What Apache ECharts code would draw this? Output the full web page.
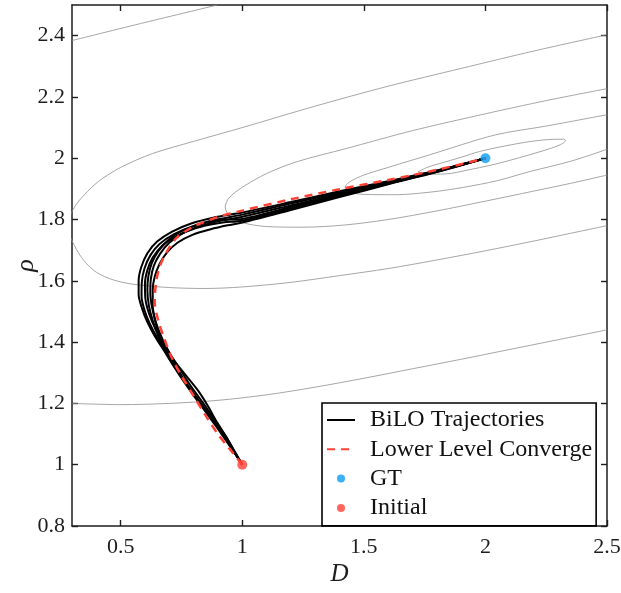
<!DOCTYPE html>
<html>
<head>
<meta charset="utf-8">
<script src="https://cdn.jsdelivr.net/npm/echarts@6/dist/echarts.min.js"></script>
<style>html,body{margin:0;padding:0;background:#fff}#c{width:621px;height:593px}</style>
</head>
<body>
<div id="c"></div>
<script>
// ---- data ----
const xTicks = [0.5, 1, 1.5, 2, 2.5];
const yTicks = [0.8, 1, 1.2, 1.4, 1.6, 1.8, 2, 2.2, 2.4];

const contourA = [[0.3,2.384],[0.6,2.443],[0.898,2.5]];
const contourB = [[2.5,2.403],[2.2,2.35],[1.9,2.293],[1.6,2.235],[1.3,2.17],[1.0,2.1],[0.8,2.055],[0.63,2.015],[0.5,1.97],[0.41,1.925],[0.35,1.88],[0.31,1.84],[0.28,1.78],[0.31,1.715],[0.35,1.665],[0.4,1.628],[0.47,1.603],[0.55,1.589],[0.7,1.578],[0.85,1.575],[1.0,1.58],[1.2,1.595],[1.4,1.617],[1.6,1.64],[1.8,1.668],[2.0,1.698],[2.2,1.73],[2.35,1.755],[2.5,1.78]];
const contourC = [[2.5,2.227],[2.25,2.188],[2.0,2.145],[1.7,2.09],[1.42,2.03],[1.23,1.99],[1.1,1.95],[1.0,1.905],[0.945,1.87],[0.93,1.84],[0.95,1.81],[1.0,1.79],[1.1,1.777],[1.25,1.775],[1.42,1.782],[1.6,1.8],[1.8,1.828],[2.0,1.86],[2.2,1.893],[2.35,1.918],[2.5,1.945]];
const contourD = [[2.5,2.142],[2.25,2.105],[2.04,2.076],[1.77,2.011],[1.6,1.97],[1.5,1.945],[1.44,1.922],[1.423,1.905],[1.44,1.89],[1.5,1.882],[1.63,1.881],[1.78,1.89],[1.91,1.905],[2.05,1.927],[2.18,1.956],[2.35,1.99],[2.5,2.029]];
const contourE = [[1.724,1.956],[1.76,1.97],[1.813,1.983],[1.9,2.003],[1.976,2.022],[2.08,2.04],[2.18,2.054],[2.26,2.061],[2.32,2.062],[2.33,2.058],[2.31,2.045],[2.26,2.03],[2.18,2.011],[2.1,1.993],[2.02,1.977],[1.93,1.962],[1.84,1.949],[1.76,1.948],[1.724,1.956]];
const contourF = [[0.3,1.2],[0.5,1.196],[0.7,1.2],[0.9,1.21],[1.1,1.228],[1.3,1.253],[1.5,1.282],[1.7,1.313],[1.9,1.344],[2.1,1.376],[2.3,1.408],[2.5,1.44]];

const traj1 = [[1.0,1.0],[0.96,1.05],[0.92,1.10],[0.87,1.155],[0.82,1.21],[0.77,1.265],[0.72,1.32],[0.68,1.37],[0.64,1.42],[0.61,1.465],[0.588,1.51],[0.574,1.555],[0.574,1.60],[0.585,1.645],[0.61,1.69],[0.65,1.728],[0.71,1.76],[0.79,1.787],[0.88,1.806],[1.0,1.823],[1.2,1.857],[1.4,1.892],[1.6,1.925],[1.8,1.96],[2.0,2.0]];
const traj2 = [[1.0,1.0],[0.965,1.045],[0.925,1.095],[0.875,1.15],[0.825,1.205],[0.775,1.26],[0.73,1.315],[0.69,1.365],[0.65,1.415],[0.62,1.46],[0.598,1.505],[0.586,1.55],[0.587,1.595],[0.598,1.64],[0.622,1.683],[0.66,1.72],[0.72,1.752],[0.80,1.779],[0.89,1.799],[1.0,1.816],[1.2,1.852],[1.4,1.888],[1.6,1.923],[1.8,1.959],[2.0,2.0]];
const traj3 = [[1.0,1.0],[0.97,1.04],[0.935,1.09],[0.895,1.14],[0.86,1.19],[0.82,1.24],[0.77,1.29],[0.72,1.34],[0.68,1.39],[0.645,1.44],[0.618,1.49],[0.602,1.54],[0.60,1.59],[0.61,1.635],[0.632,1.676],[0.67,1.714],[0.73,1.746],[0.81,1.774],[0.90,1.794],[1.0,1.809],[1.2,1.846],[1.4,1.884],[1.6,1.921],[1.8,1.958],[2.0,2.0]];
const traj4 = [[1.0,1.0],[0.96,1.048],[0.915,1.10],[0.865,1.155],[0.815,1.21],[0.765,1.265],[0.72,1.32],[0.685,1.37],[0.655,1.42],[0.632,1.47],[0.616,1.52],[0.61,1.57],[0.614,1.615],[0.628,1.658],[0.655,1.697],[0.695,1.732],[0.75,1.762],[0.83,1.785],[0.92,1.799],[1.0,1.802],[1.2,1.841],[1.4,1.88],[1.6,1.919],[1.8,1.957],[2.0,2.0]];
const traj5 = [[1.0,1.0],[0.97,1.042],[0.93,1.095],[0.885,1.148],[0.84,1.20],[0.79,1.255],[0.745,1.31],[0.705,1.36],[0.672,1.41],[0.647,1.46],[0.63,1.51],[0.622,1.56],[0.624,1.605],[0.636,1.648],[0.662,1.688],[0.70,1.724],[0.755,1.755],[0.83,1.776],[0.92,1.79],[1.0,1.796],[1.2,1.836],[1.4,1.876],[1.6,1.917],[1.8,1.956],[2.0,2.0]];
const traj6 = [[1.0,1.0],[0.965,1.045],[0.92,1.10],[0.87,1.155],[0.82,1.21],[0.77,1.265],[0.728,1.318],[0.69,1.37],[0.66,1.42],[0.642,1.47],[0.632,1.52],[0.632,1.57],[0.64,1.613],[0.66,1.655],[0.69,1.692],[0.735,1.725],[0.795,1.75],[0.87,1.768],[0.94,1.781],[1.0,1.79],[1.2,1.831],[1.4,1.873],[1.6,1.915],[1.8,1.955],[2.0,2.0]];

const lowerLevelPath = [[1,1],[0.95,1.05],[0.9,1.10],[0.85,1.16],[0.80,1.225],[0.75,1.29],[0.71,1.35],[0.68,1.41],[0.655,1.47],[0.64,1.53],[0.645,1.59],[0.66,1.645],[0.69,1.695],[0.73,1.74],[0.80,1.777],[0.9,1.808],[1.0,1.829],[1.2,1.866],[1.4,1.899],[1.6,1.929],[1.8,1.962],[2.0,2.0]];

const gtPoint = [[2, 2]];
const initialPoint = [[1, 1]];

// ---- chart ----
const FONT = "'Liberation Serif','Times New Roman',serif";
const AXC = '#1e1e1e';
const contours = [contourA, contourB, contourC, contourD, contourE, contourF];
const trajs = [traj1, traj2, traj3, traj4, traj5, traj6];

const series = [];
contours.forEach(c => series.push({
  type: 'line', data: c, showSymbol: false, smooth: 0.3, silent: true, z: 1,
  lineStyle: { color: '#8f8f8f', width: 0.8 }, clip: true
}));
trajs.forEach(t => series.push({
  name: 'BiLO Trajectories', type: 'line', data: t, showSymbol: false, symbol: 'none',
  smooth: 0.3, z: 2, lineStyle: { color: '#000', width: 2 }, itemStyle: { color: '#000' }
}));
series.push({
  name: 'Lower Level Converge', type: 'line', data: lowerLevelPath, showSymbol: false, symbol: 'none',
  smooth: 0.3, z: 3, lineStyle: { color: '#ff4136', width: 2.5, type: [8, 6] }, itemStyle: { color: '#ff4136' }
});
series.push({
  name: 'GT', type: 'scatter', data: gtPoint, symbol: 'circle', symbolSize: 10, z: 4,
  itemStyle: { color: '#0b9ef5' }
});
series.push({
  name: 'Initial', type: 'scatter', data: initialPoint, symbol: 'circle', symbolSize: 10, z: 4,
  itemStyle: { color: '#ff4136' }
});

const tickCommon = { inside: true, length: 6, lineStyle: { color: AXC, width: 1.4 } };
const lineCommon = { show: true, onZero: false, lineStyle: { color: AXC, width: 1.5 } };

const option = {
  animation: false,
  backgroundColor: '#fff',
  grid: { left: 72, right: 14, top: 5, bottom: 67, containLabel: false, outerBoundsMode: 'none' },
  xAxis: [
    { type: 'value', min: 0.3, max: 2.5, position: 'bottom',
      axisLine: lineCommon,
      axisTick: Object.assign({ customValues: xTicks }, tickCommon),
      axisLabel: { customValues: xTicks, fontFamily: FONT, fontSize: 22, color: AXC, margin: 10 },
      splitLine: { show: false },
      name: 'D', nameLocation: 'middle', nameGap: 36, nameMoveOverlap: false,
      nameTextStyle: { fontFamily: FONT, fontSize: 25, fontStyle: 'italic', color: AXC } },
    { type: 'value', min: 0.3, max: 2.5, position: 'top',
      axisLine: lineCommon,
      axisTick: Object.assign({ customValues: xTicks }, tickCommon),
      axisLabel: { show: false }, splitLine: { show: false } }
  ],
  yAxis: [
    { type: 'value', min: 0.8, max: 2.5, position: 'left',
      axisLine: lineCommon,
      axisTick: Object.assign({ customValues: yTicks }, tickCommon),
      axisLabel: { customValues: yTicks, fontFamily: FONT, fontSize: 22, color: AXC, margin: 7 },
      splitLine: { show: false },
      name: 'ρ', nameLocation: 'middle', nameGap: 33, nameRotate: 90, nameMoveOverlap: false,
      nameTextStyle: { fontFamily: FONT, fontSize: 26, fontStyle: 'italic', color: AXC } },
    { type: 'value', min: 0.8, max: 2.5, position: 'right',
      axisLine: lineCommon,
      axisTick: Object.assign({ customValues: yTicks }, tickCommon),
      axisLabel: { show: false }, splitLine: { show: false } }
  ],
  legend: {
    data: [
      { name: 'BiLO Trajectories', itemStyle: { opacity: 0, color: 'rgba(0,0,0,0)', borderWidth: 0 } },
      { name: 'Lower Level Converge', itemStyle: { opacity: 0, color: 'rgba(0,0,0,0)', borderWidth: 0 } },
      { name: 'GT' },
      { name: 'Initial' }
    ],
    orient: 'vertical', left: 322, top: 403,
    itemWidth: 28, itemHeight: 8, itemGap: 5.3,
    padding: [5, 4, 6, 4],
    borderColor: '#000', borderWidth: 1.6, backgroundColor: '#fff',
    textStyle: { fontFamily: FONT, fontSize: 24, color: '#111', lineHeight: 22, padding: [0, 0, 0, 10] },
    selectedMode: false
  },
  series: series
};
echarts.init(document.getElementById('c'), null, { renderer: 'canvas' }).setOption(option);
</script>
</body>
</html>
